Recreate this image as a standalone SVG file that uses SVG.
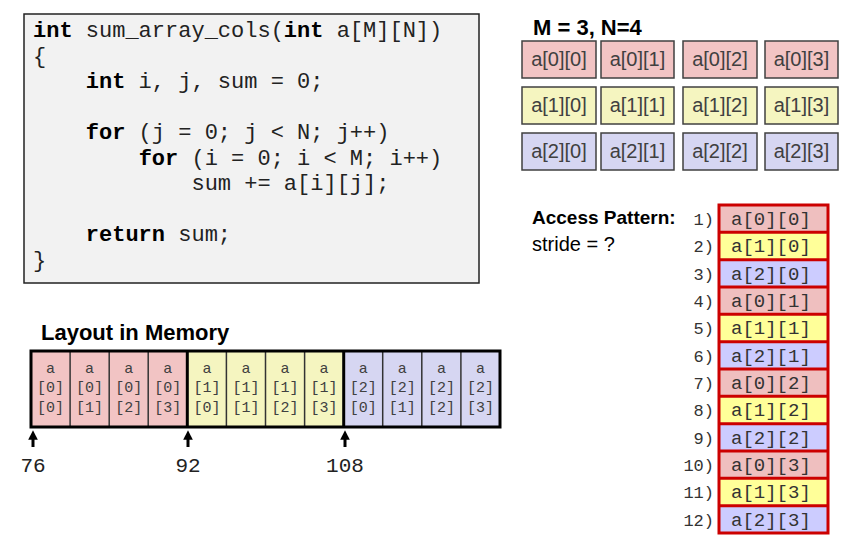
<svg xmlns="http://www.w3.org/2000/svg" width="847" height="549" viewBox="0 0 847 549">
<style>
.code{font-family:"Liberation Mono","Courier New",monospace;font-size:22px;fill:#222;white-space:pre}
.kw{font-weight:bold;fill:#000}
.title{font-family:"Liberation Sans",Arial,sans-serif;font-weight:bold;fill:#000}
.gcell{stroke:#404040;stroke-width:1.5}
.gtxt{font-family:"Liberation Sans",Arial,sans-serif;font-size:20px;fill:#404040;text-anchor:middle}
.mtxt{font-family:"Liberation Mono","Courier New",monospace;font-size:15px;fill:#404040;text-anchor:middle}
.atxt{font-family:"Liberation Mono","Courier New",monospace;font-size:19px;fill:#333}
.anum{font-family:"Liberation Mono","Courier New",monospace;font-size:17px;fill:#333;text-anchor:end}
.addr{font-family:"Liberation Mono","Courier New",monospace;font-size:21px;fill:#222;text-anchor:middle}
.r{fill:#f2c4c4}.y{fill:#f5f5c0}.b{fill:#d6d6f2}
.ar{fill:#efbfbf}.ay{fill:#ffff99}.ab{fill:#ccccff}
.sep{stroke:#333;stroke-width:1.5}
.red{stroke:#cc0000;stroke-width:3}
</style>
<defs>
<marker id="ah" viewBox="0 0 10 10" refX="4" refY="5" markerWidth="3.2" markerHeight="3.2" orient="auto" markerUnits="strokeWidth">
<path d="M0,0 L10,5 L0,10 Z" fill="#000"/>
</marker>
</defs>

<g id="code">
<rect x="24" y="14" width="455" height="269" fill="#f2f2f2" stroke="#222" stroke-width="1.5"/>
<text class="code" x="33" y="37"><tspan class="kw">int</tspan> sum_array_cols(<tspan class="kw">int</tspan> a[M][N])</text>
<text class="code" x="33" y="62.5">{</text>
<text class="code" x="33" y="88">    <tspan class="kw">int</tspan> i, j, sum = 0;</text>
<text class="code" x="33" y="139">    <tspan class="kw">for</tspan> (j = 0; j &lt; N; j++)</text>
<text class="code" x="33" y="164.5">        <tspan class="kw">for</tspan> (i = 0; i &lt; M; i++)</text>
<text class="code" x="33" y="190">            sum += a[i][j];</text>
<text class="code" x="33" y="241">    <tspan class="kw">return</tspan> sum;</text>
<text class="code" x="33" y="266.5">}</text>
</g>

<g id="grid">
<text class="title" x="533" y="35" font-size="22">M = 3, N=4</text>
<g id="g00"><rect class="gcell r" x="522" y="41" width="74" height="37"/><text class="gtxt" x="559" y="66">a[0][0]</text></g>
<g id="g01"><rect class="gcell r" x="601" y="41" width="73" height="37"/><text class="gtxt" x="637.5" y="66">a[0][1]</text></g>
<g id="g02"><rect class="gcell r" x="683" y="41" width="74" height="37"/><text class="gtxt" x="720" y="66">a[0][2]</text></g>
<g id="g03"><rect class="gcell r" x="765" y="41" width="73" height="37"/><text class="gtxt" x="801.5" y="66">a[0][3]</text></g>
<g id="g10"><rect class="gcell y" x="522" y="87" width="74" height="37"/><text class="gtxt" x="559" y="112">a[1][0]</text></g>
<g id="g11"><rect class="gcell y" x="601" y="87" width="73" height="37"/><text class="gtxt" x="637.5" y="112">a[1][1]</text></g>
<g id="g12"><rect class="gcell y" x="683" y="87" width="74" height="37"/><text class="gtxt" x="720" y="112">a[1][2]</text></g>
<g id="g13"><rect class="gcell y" x="765" y="87" width="73" height="37"/><text class="gtxt" x="801.5" y="112">a[1][3]</text></g>
<g id="g20"><rect class="gcell b" x="522" y="133" width="74" height="37"/><text class="gtxt" x="559" y="158">a[2][0]</text></g>
<g id="g21"><rect class="gcell b" x="601" y="133" width="73" height="37"/><text class="gtxt" x="637.5" y="158">a[2][1]</text></g>
<g id="g22"><rect class="gcell b" x="683" y="133" width="74" height="37"/><text class="gtxt" x="720" y="158">a[2][2]</text></g>
<g id="g23"><rect class="gcell b" x="765" y="133" width="73" height="37"/><text class="gtxt" x="801.5" y="158">a[2][3]</text></g>
</g>

<g id="memory">
<text class="title" x="41" y="340" font-size="22">Layout in Memory</text>
<rect class="r" x="31" y="351" width="156.3" height="76"/>
<rect class="y" x="187.3" y="351" width="156.4" height="76"/>
<rect class="b" x="343.7" y="351" width="156.3" height="76"/>
<g class="sep">
<line x1="70.1" y1="351" x2="70.1" y2="427"/>
<line x1="109.2" y1="351" x2="109.2" y2="427"/>
<line x1="148.2" y1="351" x2="148.2" y2="427"/>
<line x1="226.4" y1="351" x2="226.4" y2="427"/>
<line x1="265.5" y1="351" x2="265.5" y2="427"/>
<line x1="304.6" y1="351" x2="304.6" y2="427"/>
<line x1="382.7" y1="351" x2="382.7" y2="427"/>
<line x1="421.8" y1="351" x2="421.8" y2="427"/>
<line x1="460.9" y1="351" x2="460.9" y2="427"/>
</g>
<line x1="187.3" y1="351" x2="187.3" y2="427" stroke="#000" stroke-width="3"/>
<line x1="343.7" y1="351" x2="343.7" y2="427" stroke="#000" stroke-width="3"/>
<rect x="31" y="351" width="469" height="76" fill="none" stroke="#000" stroke-width="3"/>
<g class="mtxt">
<text x="50.5" y="373">a</text><text x="50.5" y="392">[0]</text><text x="50.5" y="412">[0]</text>
<text x="89.6" y="373">a</text><text x="89.6" y="392">[0]</text><text x="89.6" y="412">[1]</text>
<text x="128.7" y="373">a</text><text x="128.7" y="392">[0]</text><text x="128.7" y="412">[2]</text>
<text x="167.8" y="373">a</text><text x="167.8" y="392">[0]</text><text x="167.8" y="412">[3]</text>
<text x="206.9" y="373">a</text><text x="206.9" y="392">[1]</text><text x="206.9" y="412">[0]</text>
<text x="246.0" y="373">a</text><text x="246.0" y="392">[1]</text><text x="246.0" y="412">[1]</text>
<text x="285.0" y="373">a</text><text x="285.0" y="392">[1]</text><text x="285.0" y="412">[2]</text>
<text x="324.1" y="373">a</text><text x="324.1" y="392">[1]</text><text x="324.1" y="412">[3]</text>
<text x="363.2" y="373">a</text><text x="363.2" y="392">[2]</text><text x="363.2" y="412">[0]</text>
<text x="402.3" y="373">a</text><text x="402.3" y="392">[2]</text><text x="402.3" y="412">[1]</text>
<text x="441.4" y="373">a</text><text x="441.4" y="392">[2]</text><text x="441.4" y="412">[2]</text>
<text x="480.5" y="373">a</text><text x="480.5" y="392">[2]</text><text x="480.5" y="412">[3]</text>
</g>
<text class="addr" x="33" y="472">76</text>
<text class="addr" x="188" y="472">92</text>
<text class="addr" x="345" y="472">108</text>
</g>

<g id="connectors" stroke="#000" stroke-width="3" fill="none">
<line x1="33" y1="447" x2="33" y2="436" marker-end="url(#ah)"/>
<line x1="188" y1="447" x2="188" y2="436" marker-end="url(#ah)"/>
<line x1="345" y1="447" x2="345" y2="436" marker-end="url(#ah)"/>
</g>

<g id="access">
<text class="title" x="532" y="224" font-size="19">Access Pattern:</text>
<text x="532" y="251" font-family="Liberation Sans, Arial, sans-serif" font-size="20" fill="#000">stride = ?</text>
<rect class="ar" x="719" y="205" width="109" height="27.33"/>
<rect class="ay" x="719" y="232.33" width="109" height="27.33"/>
<rect class="ab" x="719" y="259.67" width="109" height="27.33"/>
<rect class="ar" x="719" y="287" width="109" height="27.33"/>
<rect class="ay" x="719" y="314.33" width="109" height="27.33"/>
<rect class="ab" x="719" y="341.67" width="109" height="27.33"/>
<rect class="ar" x="719" y="369" width="109" height="27.33"/>
<rect class="ay" x="719" y="396.33" width="109" height="27.33"/>
<rect class="ab" x="719" y="423.67" width="109" height="27.33"/>
<rect class="ar" x="719" y="451" width="109" height="27.33"/>
<rect class="ay" x="719" y="478.33" width="109" height="27.33"/>
<rect class="ab" x="719" y="505.67" width="109" height="27.33"/>
<g class="red">
<line x1="719" y1="232.33" x2="828" y2="232.33"/>
<line x1="719" y1="259.67" x2="828" y2="259.67"/>
<line x1="719" y1="287" x2="828" y2="287"/>
<line x1="719" y1="314.33" x2="828" y2="314.33"/>
<line x1="719" y1="341.67" x2="828" y2="341.67"/>
<line x1="719" y1="369" x2="828" y2="369"/>
<line x1="719" y1="396.33" x2="828" y2="396.33"/>
<line x1="719" y1="423.67" x2="828" y2="423.67"/>
<line x1="719" y1="451" x2="828" y2="451"/>
<line x1="719" y1="478.33" x2="828" y2="478.33"/>
<line x1="719" y1="505.67" x2="828" y2="505.67"/>
<rect x="719" y="205" width="109" height="328" fill="none"/>
</g>
<g class="anum">
<text x="714" y="225">1)</text><text x="714" y="252.3">2)</text><text x="714" y="279.7">3)</text>
<text x="714" y="307">4)</text><text x="714" y="334.3">5)</text><text x="714" y="361.7">6)</text>
<text x="714" y="389">7)</text><text x="714" y="416.3">8)</text><text x="714" y="443.7">9)</text>
<text x="714" y="471">10)</text><text x="714" y="498.3">11)</text><text x="714" y="525.7">12)</text>
</g>
<g class="atxt">
<text x="731" y="225">a[0][0]</text><text x="731" y="252.3">a[1][0]</text><text x="731" y="279.7">a[2][0]</text>
<text x="731" y="307">a[0][1]</text><text x="731" y="334.3">a[1][1]</text><text x="731" y="361.7">a[2][1]</text>
<text x="731" y="389">a[0][2]</text><text x="731" y="416.3">a[1][2]</text><text x="731" y="443.7">a[2][2]</text>
<text x="731" y="471">a[0][3]</text><text x="731" y="498.3">a[1][3]</text><text x="731" y="525.7">a[2][3]</text>
</g>
</g>
</svg>
